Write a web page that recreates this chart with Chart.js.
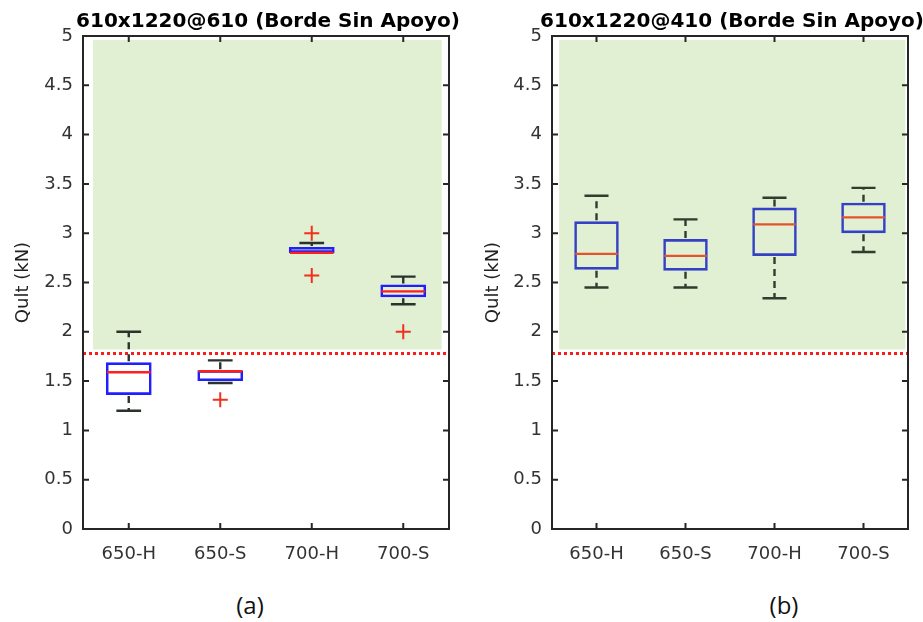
<!DOCTYPE html>
<html>
<head>
<meta charset="utf-8">
<script src="https://cdn.jsdelivr.net/npm/chart.js@4.4.0/dist/chart.umd.min.js"></script>
<style>
  html, body { margin: 0; padding: 0; background: #fff; }
  #wrap { position: relative; width: 923px; height: 622px; overflow: hidden; }
  .panel { position: absolute; top: 0; height: 580px; }
  .cap { position: absolute; top: 588px; font: 24px "Open Sans", sans-serif; color: #111; transform: translateX(-50%); }
</style>
</head>
<body>
<div id="wrap">
  <div class="panel" style="left:0;width:470px"><canvas id="chartA"></canvas></div>
  <div class="panel" style="left:470px;width:453px"><canvas id="chartB"></canvas></div>
  <div class="cap" style="left:250px">(a)</div>
  <div class="cap" style="left:784px">(b)</div>
</div>
<script>
const categories = ["650-H", "650-S", "700-H", "700-S"];
const yTicks = [0, 0.5, 1, 1.5, 2, 2.5, 3, 3.5, 4, 4.5, 5];
const threshold = 1.78;

// (a) 610x1220@610
const aQ1 = [1.36, 1.50, 2.80, 2.35];
const aQ3 = [1.69, 1.61, 2.86, 2.48];
const aMedian = [1.59, 1.60, 2.80, 2.41];
const aLow = [1.20, 1.48, 2.80, 2.28];
const aHigh = [2.00, 1.71, 2.90, 2.56];
const aOutliers = [
  { x: "650-S", y: 1.31 },
  { x: "700-H", y: 3.00 },
  { x: "700-H", y: 2.57 },
  { x: "700-S", y: 2.00 },
];

// (b) 610x1220@410
const bQ1 = [2.63, 2.62, 2.77, 3.00];
const bQ3 = [3.12, 2.94, 3.26, 3.31];
const bMedian = [2.79, 2.77, 3.09, 3.16];
const bLow = [2.45, 2.45, 2.34, 2.81];
const bHigh = [3.38, 3.14, 3.36, 3.46];
const bOutliers = [];

const font = "DejaVu Sans";

const boxExtras = {
  id: "boxExtras",
  beforeDatasetsDraw(chart, args, o) {
    const { ctx, scales: { x, y } } = chart;
    ctx.save();
    // green acceptance zone
    const zx0 = x.getPixelForValue(o.zoneX[0]);
    const zx1 = x.getPixelForValue(o.zoneX[1]);
    const zy0 = y.getPixelForValue(o.zoneY[1]);
    const zy1 = y.getPixelForValue(threshold + 0.04);
    ctx.fillStyle = "#e1efd3";
    ctx.fillRect(zx0, zy0, zx1 - zx0, zy1 - zy0);
    ctx.restore();
  },
  afterDatasetsDraw(chart, args, o) {
    const { ctx, chartArea: ca, scales: { x, y } } = chart;
    const step = x.getPixelForValue(1) - x.getPixelForValue(0);
    ctx.save();
    // threshold line
    const ty = y.getPixelForValue(threshold);
    ctx.strokeStyle = "#ff1a1a";
    ctx.lineWidth = 3.2;
    ctx.setLineDash([3, 3]);
    ctx.beginPath();
    ctx.moveTo(ca.left, ty);
    ctx.lineTo(ca.right, ty);
    ctx.stroke();

    const d = o.data;
    for (let i = 0; i < categories.length; i++) {
      const xc = x.getPixelForValue(i);
      // whiskers
      ctx.strokeStyle = o.whiskerColor;
      ctx.lineWidth = 2.4;
      ctx.setLineDash([7, 5]);
      ctx.beginPath();
      ctx.moveTo(xc, y.getPixelForValue(d.q3[i]) - 1);
      ctx.lineTo(xc, y.getPixelForValue(d.high[i]));
      ctx.moveTo(xc, y.getPixelForValue(d.q1[i]) + 1);
      ctx.lineTo(xc, y.getPixelForValue(d.low[i]));
      ctx.stroke();
      ctx.setLineDash([]);
      const cap = step * 0.135;
      ctx.beginPath();
      ctx.moveTo(xc - cap, y.getPixelForValue(d.high[i]));
      ctx.lineTo(xc + cap, y.getPixelForValue(d.high[i]));
      ctx.moveTo(xc - cap, y.getPixelForValue(d.low[i]));
      ctx.lineTo(xc + cap, y.getPixelForValue(d.low[i]));
      ctx.stroke();
      // median
      const half = step * 0.25 - 1;
      ctx.strokeStyle = o.medianColor;
      ctx.lineWidth = 2.4;
      ctx.beginPath();
      ctx.moveTo(xc - half, y.getPixelForValue(d.median[i]));
      ctx.lineTo(xc + half, y.getPixelForValue(d.median[i]));
      ctx.stroke();
    }
    ctx.restore();
  },
  afterDraw(chart, args, o) {
    const { ctx, chartArea: ca, scales: { x, y } } = chart;
    ctx.save();
    ctx.strokeStyle = "#262626";
    ctx.lineWidth = 2;
    ctx.strokeRect(ca.left, ca.top, ca.right - ca.left, ca.bottom - ca.top);
    ctx.beginPath();
    y.ticks.forEach((t, i) => {
      const py = y.getPixelForTick(i);
      ctx.moveTo(ca.left, py); ctx.lineTo(ca.left + 6, py);
      ctx.moveTo(ca.right, py); ctx.lineTo(ca.right - 6, py);
    });
    x.ticks.forEach((t, i) => {
      const px = x.getPixelForTick(i);
      ctx.moveTo(px, ca.bottom); ctx.lineTo(px, ca.bottom - 6);
      ctx.moveTo(px, ca.top); ctx.lineTo(px, ca.top + 6);
    });
    ctx.stroke();
    // panel title
    ctx.fillStyle = "#000";
    ctx.font = "bold 20px '" + font + "'";
    ctx.textAlign = "center";
    ctx.textBaseline = "middle";
    ctx.fillText(o.title, (ca.left + ca.right) / 2 + 2, 22);
    ctx.restore();
  },
};

function makePanel(id, title, q1, q3, median, low, high, outliers, look) {
  return new Chart(document.getElementById(id), {
    type: "bar",
    data: {
      labels: categories,
      datasets: [
        {
          data: categories.map((c, i) => [q1[i], q3[i]]),
          backgroundColor: "rgba(0,0,0,0)",
          borderColor: look.boxColor,
          borderWidth: 2.6,
          borderSkipped: false,
          barPercentage: 0.5,
          categoryPercentage: 1,
        },
        {
          type: "scatter",
          data: outliers,
          pointStyle: "cross",
          radius: 7.5,
          borderColor: look.outlierColor,
          borderWidth: 2,
        },
      ],
    },
    options: {
      responsive: true,
      maintainAspectRatio: false,
      animation: false,
      layout: { padding: { left: 0, right: look.padRight, top: 36, bottom: 0 } },
      plugins: {
        legend: { display: false },
        tooltip: { enabled: false },
        boxExtras: {
          title: title,
          zoneX: look.zoneX,
          zoneY: [threshold, 4.96],
          whiskerColor: look.whiskerColor,
          medianColor: look.medianColor,
          data: { q1, q3, median, low, high },
        },
      },
      scales: {
        x: {
          type: "category",
          offset: true,
          grid: { display: false, drawTicks: false },
          border: { display: false },
          ticks: { font: { family: font, size: 18 }, color: "#333", padding: 15 },
          afterFit: (s) => { s.width; s.height = 51; },
        },
        y: {
          min: 0,
          max: 5,
          afterBuildTicks: (s) => { s.ticks = yTicks.map((v) => ({ value: v })); },
          grid: { display: false, drawTicks: false },
          border: { display: false },
          ticks: {
            font: { family: font, size: 18 },
            color: "#333",
            padding: 10,
            callback: (v) => String(v),
          },
          title: {
            display: true,
            text: "Qult (kN)",
            font: { family: font, size: 18 },
            color: "#222",
            padding: { top: 13, bottom: 0 },
          },
          afterFit: (s) => { s.width = look.axisWidth; },
        },
      },
    },
    plugins: [boxExtras],
  });
}

makePanel("chartA", "610x1220@610 (Borde Sin Apoyo)", aQ1, aQ3, aMedian, aLow, aHigh, aOutliers, {
  boxColor: "#1f1fff", medianColor: "#ff1f1f", whiskerColor: "#2a332a", outlierColor: "#f0301c",
  zoneX: [-0.39, 3.42], padRight: 21, axisWidth: 83,
});
makePanel("chartB", "610x1220@410 (Borde Sin Apoyo)", bQ1, bQ3, bMedian, bLow, bHigh, bOutliers, {
  boxColor: "#3441c4", medianColor: "#e5532d", whiskerColor: "#2e3d2e", outlierColor: "#f0301c",
  zoneX: [-0.42, 3.47], padRight: 15, axisWidth: 82,
});
</script>
</body>
</html>
